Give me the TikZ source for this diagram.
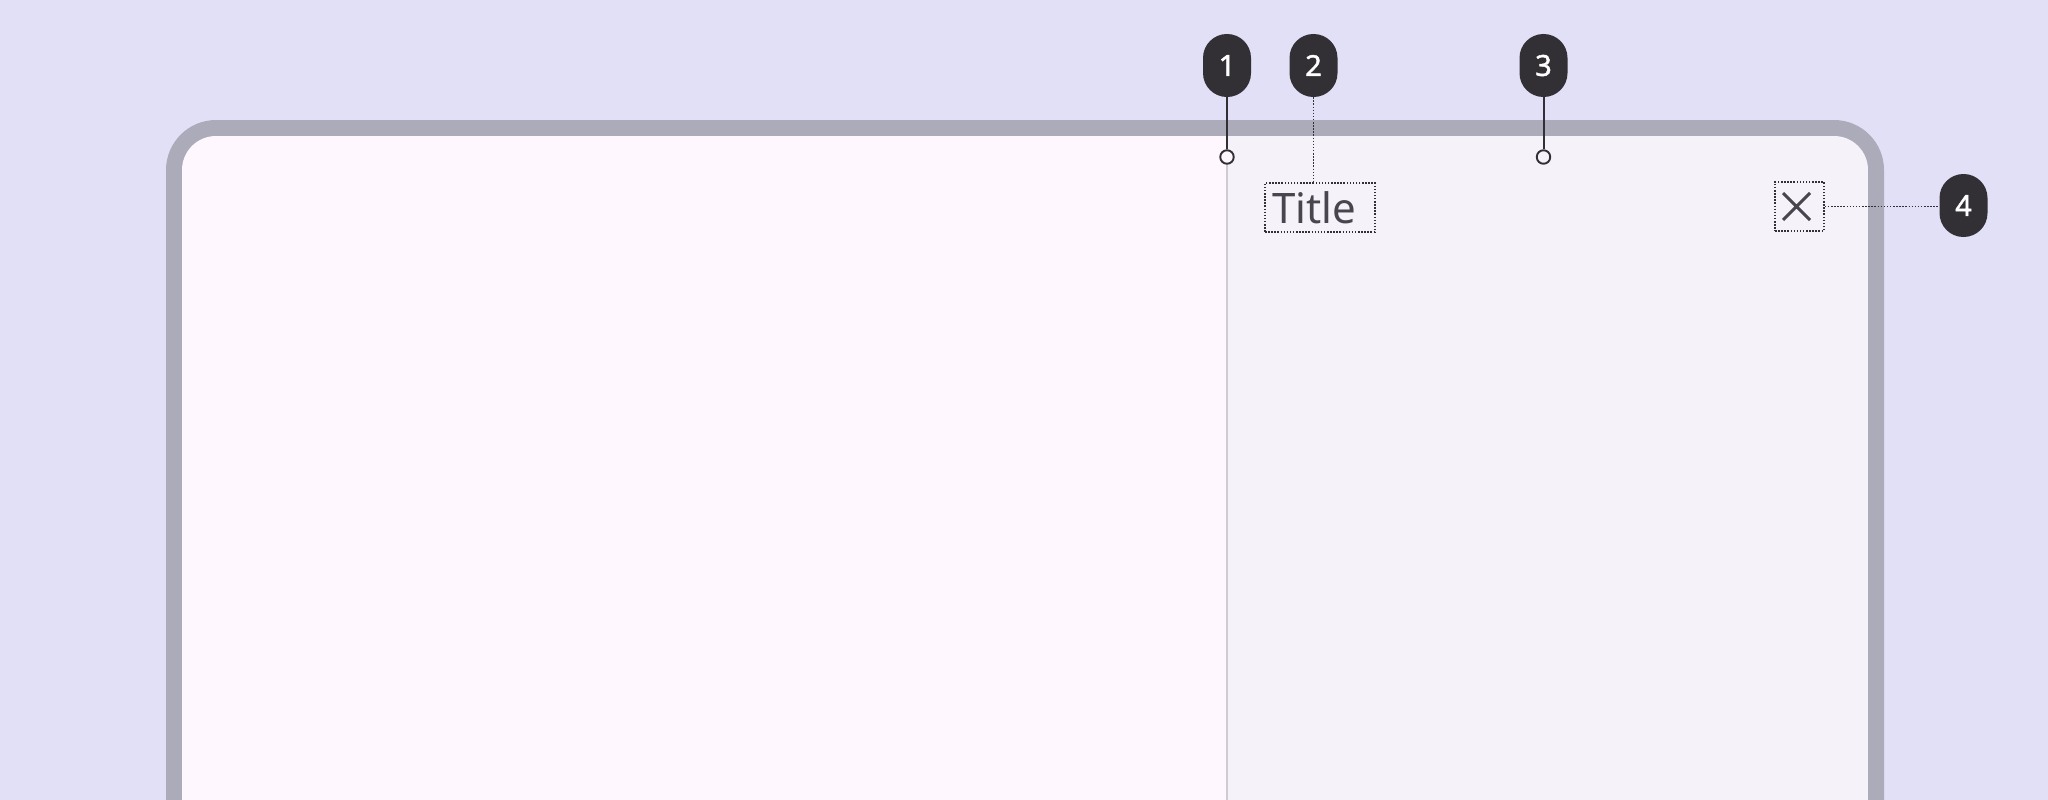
\documentclass[tikz,border=0pt]{standalone}
\usepackage{fontspec}
\setmainfont{Noto Sans}
\newfontfamily\badgefont[FakeBold=1.6]{Noto Sans}
\definecolor{bgcol}{HTML}{E1E0F7}
\definecolor{framecol}{HTML}{ACABB9}
\definecolor{leftpane}{HTML}{FEF8FE}
\definecolor{rightpane}{HTML}{F6F2F9}
\definecolor{dividercol}{HTML}{CFCAD3}
\definecolor{badgecol}{HTML}{322F35}
\definecolor{inkcol}{HTML}{49454F}
\tikzset{
  badgebox/.style={fill=badgecol, text=white, rectangle, rounded corners=23.9pt,
    minimum width=48pt, minimum height=63pt, inner sep=0pt,
    font=\badgefont\fontsize{29}{32}\selectfont},
  anchorcirc/.style={circle, draw=badgecol, fill=leftpane, line width=1.9pt,
    minimum size=13.5pt, inner sep=0pt},
  solidlink/.style={draw=badgecol, line width=2pt},
  dotlink/.style={draw=badgecol, line width=1.7pt, dash pattern=on 1.5pt off 1.6pt},
  dotbox/.style={draw=badgecol, line width=1.7pt, dash pattern=on 1.5pt off 1.6pt,
    rectangle, inner sep=0pt},
}
\begin{document}
\begin{tikzpicture}[x=1pt,y=-1pt]
\useasboundingbox (0,0) rectangle (2048,800);
\fill[bgcol] (0,0) rectangle (2048,800);
% device frame
\fill[framecol, rounded corners=50pt] (166,900) -- (166,120) -- (1884,120) -- (1884,900) -- cycle;
\begin{scope}
  \clip[rounded corners=34pt] (182,900) -- (182,136) -- (1868,136) -- (1868,900) -- cycle;
  \fill[leftpane] (182,136) rectangle (1226,900);
  \fill[rightpane] (1226,136) rectangle (1868,900);
  \draw[dividercol, line width=2pt] (1226.5,136) -- (1226.5,900);
\end{scope}
% anchors
\node[anchorcirc] (c1) at (1227,157) {};
\node[anchorcirc, fill=rightpane] (c3) at (1543.5,157) {};
% title and close icon
\node[dotbox, minimum width=110pt, minimum height=49pt,
  font=\fontsize{42}{46}\selectfont, text=inkcol] (t) at (1320,207.5)
  {\makebox[96pt][l]{Title}};
\node[dotbox, minimum width=49pt, minimum height=49pt] (x) at (1799.5,206.5) {};
\draw[inkcol, line width=3pt]
  ([shift={(-16.5,-13.5)}]x.center) -- ([shift={(10.5,13.5)}]x.center)
  ([shift={(-16.5,13.5)}]x.center) -- ([shift={(10.5,-13.5)}]x.center);
% badges
\node[badgebox] (b1) at (1227,65.5) {1};
\node[badgebox] (b2) at (1313.5,65.5) {2};
\node[badgebox] (b3) at (1543.5,65.5) {3};
\node[badgebox] (b4) at (1963.5,205.5) {4};
% connectors
\draw[solidlink] (b1.south) -- (c1.north);
\draw[solidlink] (b3.south) -- (c3.north);
\draw[dotlink] (b2.south) -- (b2.south |- t.north);
\draw[dotlink] (x.east) -- (x.east -| b4.west);
\end{tikzpicture}
\end{document}
